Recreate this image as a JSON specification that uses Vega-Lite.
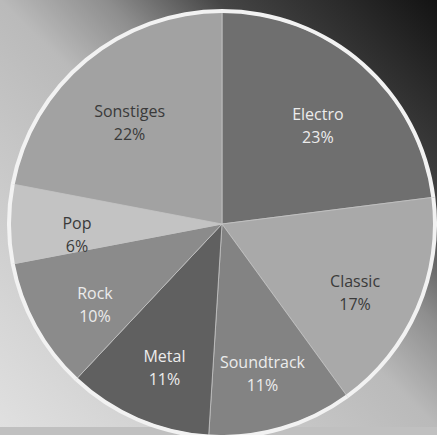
{
  "$schema": "https://vega.github.io/schema/vega-lite/v6.json",
  "width": 437,
  "height": 435,
  "autosize": {"type": "fit", "contains": "padding"},
  "padding": 0,
  "background": "#c0c0c0",
  "config": {"view": {"stroke": null}},
  "datasets": {
    "slices": [
      {"i": 1, "genre": "Electro", "pct": 23, "label": "Electro\n23%"},
      {"i": 2, "genre": "Classic", "pct": 17, "label": "Classic\n17%"},
      {"i": 3, "genre": "Soundtrack", "pct": 11, "label": "Soundtrack\n11%"},
      {"i": 4, "genre": "Metal", "pct": 11, "label": "Metal\n11%"},
      {"i": 5, "genre": "Rock", "pct": 10, "label": "Rock\n10%"},
      {"i": 6, "genre": "Pop", "pct": 6, "label": "Pop\n6%"},
      {"i": 7, "genre": "Sonstiges", "pct": 22, "label": "Sonstiges\n22%"}
    ],
    "bg": [{"name": "background"}]
  },
  "layer": [
    {
      "data": {"name": "bg"},
      "mark": {
        "type": "rect",
        "fill": {
          "gradient": "linear",
          "x1": 1, "y1": 0,
          "x2": 0, "y2": 1,
          "stops": [
            {"offset": 0, "color": "#131313"},
            {"offset": 0.12, "color": "#2c2c2c"},
            {"offset": 0.25, "color": "#454545"},
            {"offset": 0.38, "color": "#8e8e8e"},
            {"offset": 0.5, "color": "#bababa"},
            {"offset": 1, "color": "#e0e0e0"}
          ]
        }
      },
      "encoding": {
        "x": {"value": 0},
        "x2": {"value": "width"},
        "y": {"value": 0},
        "y2": {"value": "height"}
      }
    },
    {
      "data": {"name": "slices"},
      "mark": {"type": "arc", "radius": 212, "stroke": "#c4c4c4", "strokeWidth": 0.8, "xOffset": 3.5, "yOffset": 10.5},
      "encoding": {
        "theta": {"field": "pct", "type": "quantitative", "stack": true},
        "order": {"field": "i", "type": "ordinal"},
        "color": {
          "field": "genre", "type": "nominal", "legend": null,
          "scale": {
            "domain": ["Electro", "Classic", "Soundtrack", "Metal", "Rock", "Pop", "Sonstiges"],
            "range": ["#6f6f6f", "#a9a9a9", "#838383", "#606060", "#8b8b8b", "#c3c3c3", "#a2a2a2"]
          }
        }
      }
    },
    {
      "data": {"name": "slices"},
      "mark": {"type": "arc", "outerRadius": 215, "innerRadius": 211, "fill": "#f2f2f2", "xOffset": 3.5, "yOffset": 10.5},
      "encoding": {
        "theta": {"field": "pct", "type": "quantitative", "stack": true},
        "order": {"field": "i", "type": "ordinal"}
      }
    },
    {
      "data": {"name": "slices"},
      "mark": {"type": "text", "radius": 145, "font": "Open Sans", "fontSize": 16, "lineHeight": 23, "lineBreak": "\n", "baseline": "middle", "xOffset": 3.5, "yOffset": 10.5},
      "encoding": {
        "theta": {"field": "pct", "type": "quantitative", "stack": true},
        "order": {"field": "i", "type": "ordinal"},
        "text": {"field": "label"},
        "color": {
          "field": "genre", "type": "nominal", "legend": null,
          "scale": {
            "domain": ["Electro", "Classic", "Soundtrack", "Metal", "Rock", "Pop", "Sonstiges"],
            "range": ["#ececec", "#3a3a3a", "#ececec", "#ececec", "#ececec", "#3a3a3a", "#3a3a3a"]
          }
        }
      }
    }
  ],
  "resolve": {"scale": {"color": "independent"}}
}
